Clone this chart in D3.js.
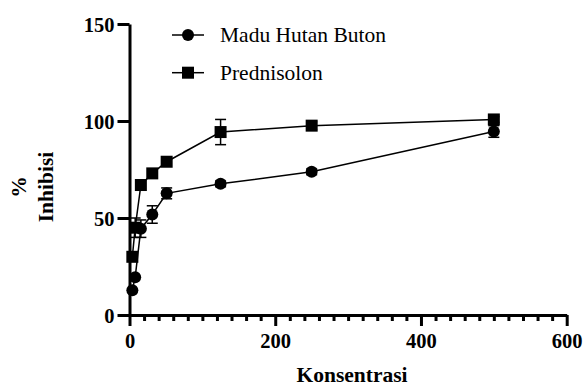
<!DOCTYPE html>
<html>
<head>
<meta charset="utf-8">
<script src="https://cdn.jsdelivr.net/npm/d3@7"></script>
<style>
  body { margin: 0; background: #fff; }
  svg text { font-family: "Liberation Serif", "Times New Roman", serif; }
</style>
</head>
<body>
<script>
// concentrations and % inhibition
var konsentrasi = [3.9, 7.8, 15.6, 31.25, 51, 125, 250, 500];
var madu = [12.8, 19.5, 44.5, 51.8, 62.7, 67.6, 73.8, 94.6];
var maduErr = [0, 0, 4.5, 4.5, 2.8, 1.5, 1.5, 3];
var prednisolon = [30, 45, 67, 73, 79, 94.3, 97.6, 100.8];
var prednisolonErr = [0, 5, 0, 0, 0, 6.5, 2, 1.5];
var xTicks = [0, 200, 400, 600];
var yTicks = [0, 50, 100, 150];
var seriesNames = ["Madu Hutan Buton", "Prednisolon"];

var serif = "'Liberation Serif', 'Times New Roman', serif";
var width = 584, height = 387;
var x = d3.scaleLinear().domain([0, 600]).range([129.5, 566.7]);
var y = d3.scaleLinear().domain([0, 150]).range([315, 24]);

var svg = d3.select("body").append("svg")
    .attr("width", width)
    .attr("height", height)
    .attr("font-family", serif);

// x axis, major + minor ticks
svg.append("g")
    .attr("transform", "translate(0," + y(0) + ")")
    .call(d3.axisBottom(x).tickValues(xTicks).tickSize(11).tickSizeOuter(0).tickPadding(7));
svg.append("g")
    .attr("transform", "translate(0," + y(0) + ")")
    .call(d3.axisBottom(x).tickValues(d3.range(20, 600, 20).filter(function(d) { return d % 200 != 0; }))
      .tickSize(6).tickSizeOuter(0).tickFormat(""))
    .select(".domain").remove();

var yAxis = svg.append("g")
    .attr("transform", "translate(" + x(0) + ",0)")
    .call(d3.axisLeft(y).tickValues(yTicks).tickSize(12).tickSizeOuter(0).tickPadding(3));

svg.selectAll("g").attr("font-family", serif);
svg.selectAll(".domain, .tick line")
    .attr("stroke", "#000")
    .attr("stroke-width", 3);
svg.selectAll(".tick text")
    .attr("font-size", 20.5)
    .attr("font-weight", "bold")
    .attr("fill", "#000");
yAxis.selectAll(".tick text").attr("dy", "0.35em");

// axis titles
svg.append("text")
    .attr("x", 352).attr("y", 382)
    .attr("text-anchor", "middle")
    .attr("font-size", 21.5).attr("font-weight", "bold")
    .text("Konsentrasi");

var yl = svg.append("text")
    .attr("transform", "translate(0,187) rotate(-90)")
    .attr("text-anchor", "middle")
    .attr("font-size", 21.5).attr("font-weight", "bold");
yl.append("tspan").attr("x", 0).attr("y", 26).text("%");
yl.append("tspan").attr("x", 0).attr("y", 53).text("Inhibisi");

var line = d3.line()
    .x(function(d) { return x(d[0]); })
    .y(function(d) { return y(d[1]); });

function drawSeries(vals, errs, shape) {
  var pts = konsentrasi.map(function(c, i) { return [c, vals[i], errs[i]]; });
  var g = svg.append("g");
  g.append("path")
      .datum(pts)
      .attr("fill", "none")
      .attr("stroke", "#000")
      .attr("stroke-width", 1.5)
      .attr("d", line);
  var eb = g.selectAll(".err").data(pts.filter(function(d) { return d[2] > 0; }))
    .enter().append("g");
  eb.append("line")
      .attr("x1", function(d) { return x(d[0]); })
      .attr("x2", function(d) { return x(d[0]); })
      .attr("y1", function(d) { return y(d[1] - d[2]); })
      .attr("y2", function(d) { return y(d[1] + d[2]); })
      .attr("stroke", "#000").attr("stroke-width", 1.5);
  [-1, 1].forEach(function(s) {
    eb.append("line")
        .attr("x1", function(d) { return x(d[0]) - 5.5; })
        .attr("x2", function(d) { return x(d[0]) + 5.5; })
        .attr("y1", function(d) { return y(d[1] + s * d[2]); })
        .attr("y2", function(d) { return y(d[1] + s * d[2]); })
        .attr("stroke", "#000").attr("stroke-width", 1.5);
  });
  if (shape == "circle") {
    g.selectAll(".pt").data(pts).enter().append("circle")
        .attr("cx", function(d) { return x(d[0]); })
        .attr("cy", function(d) { return y(d[1]); })
        .attr("r", 6)
        .attr("fill", "#000");
  } else {
    g.selectAll(".pt").data(pts).enter().append("rect")
        .attr("x", function(d) { return x(d[0]) - 6; })
        .attr("y", function(d) { return y(d[1]) - 6; })
        .attr("width", 12).attr("height", 12)
        .attr("fill", "#000");
  }
}

drawSeries(madu, maduErr, "circle");
drawSeries(prednisolon, prednisolonErr, "square");

// legend
var legendY = [35, 72.7];
seriesNames.forEach(function(name, i) {
  var g = svg.append("g").attr("transform", "translate(0," + legendY[i] + ")");
  g.append("line").attr("x1", 172).attr("x2", 204).attr("y1", 0).attr("y2", 0)
      .attr("stroke", "#000").attr("stroke-width", 1.5);
  if (i == 0) {
    g.append("circle").attr("cx", 188).attr("cy", 0).attr("r", 6).attr("fill", "#000");
  } else {
    g.append("rect").attr("x", 182).attr("y", -6).attr("width", 12).attr("height", 12).attr("fill", "#000");
  }
  g.append("text").attr("x", 220).attr("y", 7)
      .attr("font-size", 21.5)
      .text(name);
});
</script>
</body>
</html>
